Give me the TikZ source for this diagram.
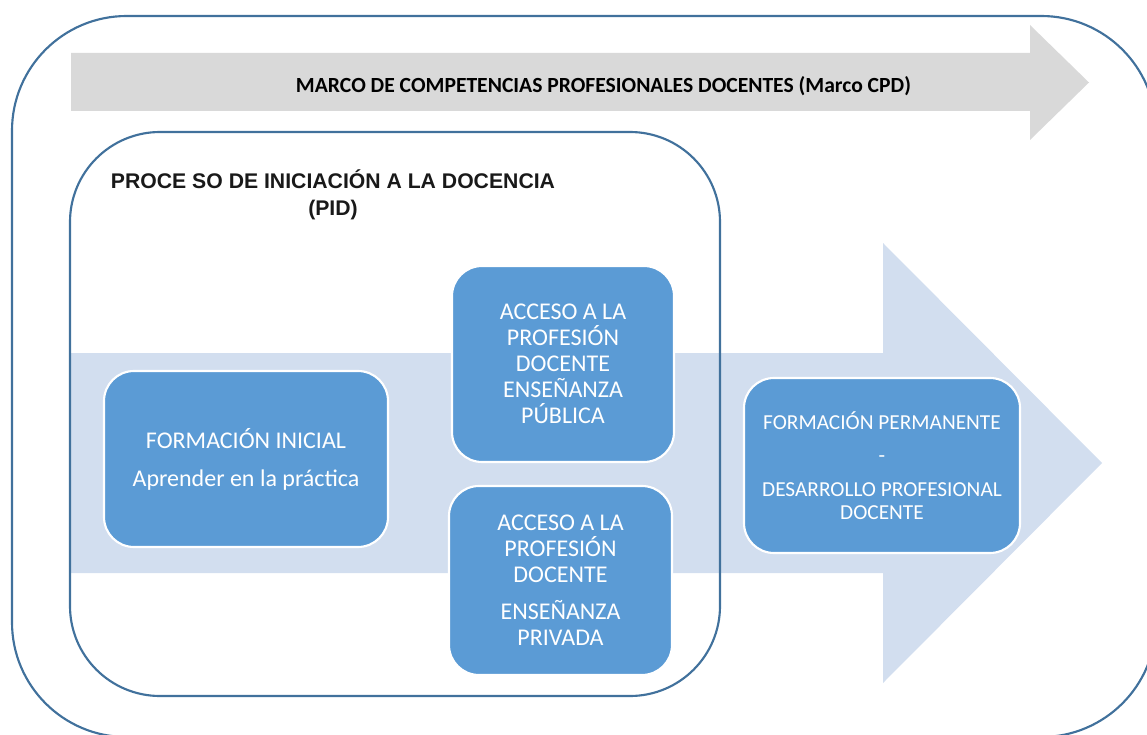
\documentclass[tikz,border=0pt]{standalone}
\usepackage{fontspec}
\setmainfont{Carlito}
\newfontfamily\pidfont{Liberation Sans}
\definecolor{frameblue}{HTML}{41719C}
\definecolor{arrowgray}{HTML}{D9D9D9}
\definecolor{arrowblue}{HTML}{D2DEEF}
\definecolor{boxblue}{HTML}{5B9BD5}
\begin{document}
\begin{tikzpicture}[x=0.75pt,y=-0.75pt,
  frame/.style={draw=frameblue,line width=1.6pt},
  stagebox/.style={draw=white,line width=1.6pt,fill=boxblue,rounded corners=22.5pt,
    inner sep=0pt,align=center,text=white,font=\fontsize{18}{19.5}\selectfont},
  marcotext/.style={font=\bfseries\fontsize{16.2}{18}\selectfont,text=black,anchor=base,inner sep=0pt},
  pidtext/.style={font=\pidfont\bfseries\fontsize{15.9}{18}\selectfont,text=black!90,anchor=base,inner sep=0pt}]
\useasboundingbox (0,0) rectangle (1147,735);
% outer frame
\draw[frame,rounded corners=86pt] (12,16) rectangle (1156,737);
% gray arrow (Marco CPD)
\fill[arrowgray] (71,53) -- (1030,53) -- (1030,25) -- (1089,82.5) -- (1030,140) -- (1030,111) -- (71,111) -- cycle;
\node[marcotext] (marco) at (603.5,93) {MARCO DE COMPETENCIAS PROFESIONALES DOCENTES (Marco CPD)};
% light blue arrow
\fill[arrowblue] (70,353) -- (883,353) -- (883,243) -- (1102,463) -- (883,683) -- (883,573) -- (70,573) -- cycle;
% inner frame (PID)
\draw[frame,rounded corners=67.5pt] (70,132) rectangle (720,696);
\node[pidtext] (pid1) at (333,188) {PROCE SO DE INICIACIÓN A LA DOCENCIA};
\node[pidtext] (pid2) at (333,215) {(PID)};
% stage boxes
\node[stagebox,minimum width=213pt,minimum height=132pt] (inicial) at (246,459)
  {FORMACIÓN INICIAL\\[9pt]Aprender en la práctica};
\node[stagebox,minimum width=166.5pt,minimum height=147pt] (publica) at (563,364)
  {ACCESO A LA\\PROFESIÓN\\DOCENTE\\ENSEÑANZA\\PÚBLICA};
\node[stagebox,minimum width=167.25pt,minimum height=141.75pt] (privada) at (560.5,580.5)
  {ACCESO A LA\\PROFESIÓN\\DOCENTE\\[8.25pt]ENSEÑANZA\\PRIVADA};
\node[stagebox,minimum width=207pt,minimum height=131.25pt,font=\fontsize{16}{17.25}\selectfont] (permanente) at (882,465.5)
  {FORMACIÓN PERMANENTE\\[7.5pt]-\\[8.25pt]DESARROLLO PROFESIONAL\\DOCENTE};
\end{tikzpicture}
\end{document}
